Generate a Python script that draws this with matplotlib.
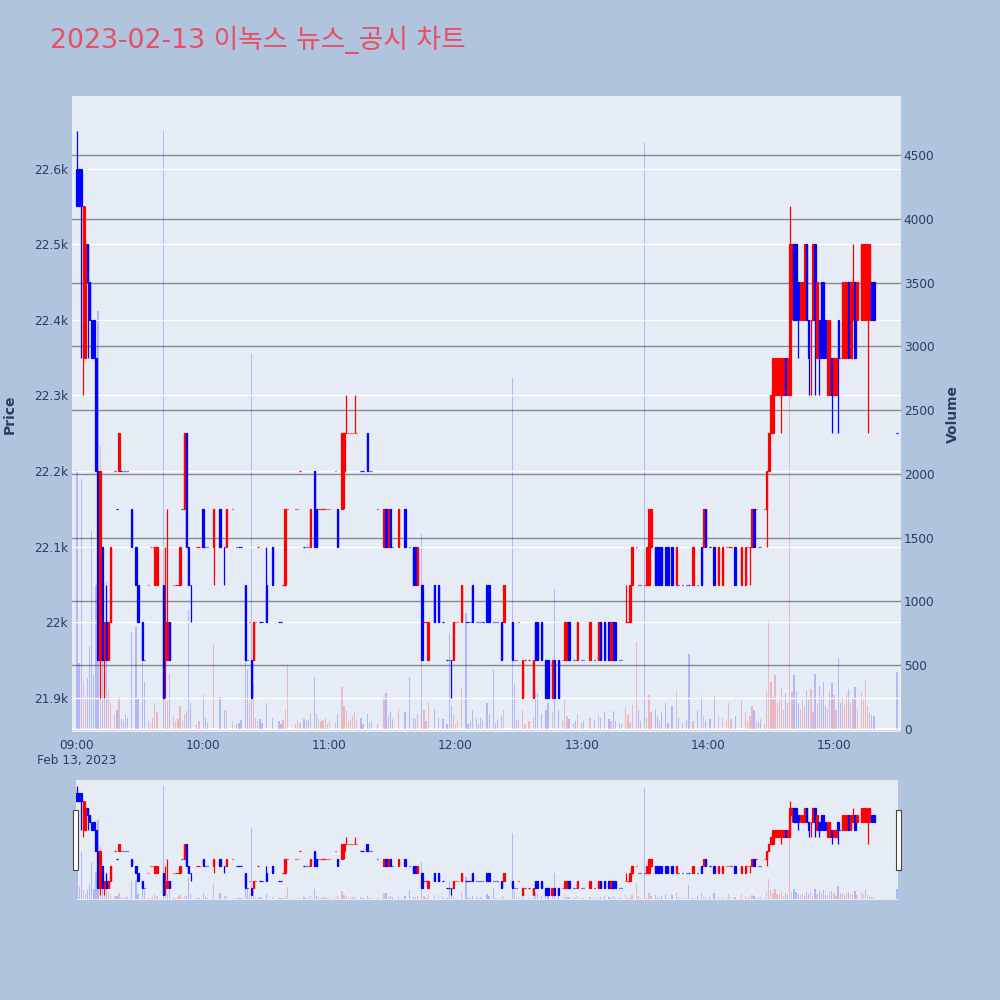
import numpy as np
import pandas as pd
import matplotlib
matplotlib.use('Agg')
import matplotlib.pyplot as plt
import matplotlib.dates as mdates
from matplotlib.patches import Rectangle

plt.rcParams['font.family'] = ['DejaVu Sans', 'Noto Sans CJK KR']

title = '2023-02-13 이녹스 뉴스_공시 차트'
date_label = 'Feb 13, 2023'

# minutes after 09:00 that have trades
minutes = [
    0, 1, 2, 3, 4, 5, 6, 7, 8, 9,
    10, 11, 12, 13, 14, 15, 16, 18, 19, 20,
    21, 22, 23, 24, 26, 28, 29, 31, 32, 34,
    35, 36, 37, 38, 41, 42, 43, 44, 46, 47,
    48, 49, 50, 51, 52, 53, 54, 57, 58, 60,
    61, 62, 65, 68, 70, 71, 74, 76, 77, 78,
    80, 81, 82, 83, 84, 85, 86, 87, 88, 90,
    93, 96, 97, 98, 99, 100, 104, 105, 106, 108,
    109, 110, 111, 113, 114, 115, 116, 117, 118, 119,
    120, 123, 124, 126, 127, 128, 129, 130, 131, 132,
    133, 135, 136, 138, 139, 140, 143, 146, 147, 148,
    149, 150, 153, 156, 158, 160, 161, 162, 164, 165,
    166, 167, 170, 172, 174, 176, 177, 178, 179, 180,
    181, 183, 185, 186, 187, 188, 190, 191, 192, 193,
    195, 196, 198, 199, 200, 202, 203, 207, 208, 209,
    210, 212, 213, 215, 217, 218, 219, 221, 223, 224,
    226, 227, 229, 231, 232, 233, 234, 236, 237, 238,
    240, 241, 244, 246, 248, 249, 251, 253, 254, 255,
    256, 258, 259, 261, 262, 263, 264, 266, 267, 268,
    270, 271, 272, 273, 275, 276, 277, 278, 280, 281,
    283, 285, 286, 288, 290, 291, 293, 295, 297, 298,
    299, 301, 303, 305, 307, 309, 310, 311, 313, 316,
    318, 319, 320, 321, 322, 323, 324, 325, 327, 328,
    329, 330, 331, 332, 333, 334, 335, 336, 337, 338,
    339, 340, 341, 342, 343, 344, 345, 346, 347, 348,
    349, 350, 351, 352, 353, 354, 355, 356, 357, 358,
    359, 360, 361, 362, 363, 364, 365, 366, 367, 368,
    369, 370, 371, 373, 374, 375, 376, 377, 378, 379,
    390,
]

opens = [
    22600, 22600, 22600, 22350, 22350, 22500, 22450, 22400, 22400, 22350,
    22200, 21950, 22100, 21950, 22000, 21950, 22000, 22200, 22150, 22200,
    22200, 22200, 22200, 22200, 22150, 22100, 22050, 22000, 21950, 22050,
    22100, 22100, 22050, 22050, 22050, 21950, 21950, 22000, 22050, 22050,
    22050, 22050, 22150, 22150, 22250, 22100, 22050, 22100, 22100, 22150,
    22100, 22100, 22100, 22150, 22100, 22100, 22150, 22100, 22100, 22100,
    22050, 21950, 22000, 21950, 21950, 22000, 22100, 22000, 22000, 22050,
    22100, 22000, 22000, 22050, 22050, 22150, 22150, 22150, 22200, 22100,
    22100, 22100, 22100, 22200, 22150, 22150, 22150, 22150, 22150, 22150,
    22150, 22200, 22150, 22150, 22200, 22250, 22250, 22250, 22250, 22250,
    22250, 22200, 22200, 22250, 22200, 22200, 22150, 22100, 22150, 22100,
    22150, 22100, 22100, 22150, 22100, 22100, 22100, 22050, 22050, 22000,
    22000, 21950, 22050, 22050, 22000, 21950, 21950, 21950, 21950, 22000,
    22000, 22000, 22000, 22000, 22000, 22050, 22000, 22000, 22000, 22000,
    22050, 22050, 22000, 22000, 22000, 22000, 22000, 22000, 21950, 21950,
    22000, 21900, 21950, 21950, 21900, 22000, 22000, 22000, 21950, 21950,
    21900, 21950, 21950, 21950, 21950, 21950, 22000, 21950, 21950, 21950,
    21950, 21950, 21950, 21950, 21950, 22000, 22000, 22000, 21950, 22000,
    22000, 21950, 21950, 22000, 22000, 22000, 22050, 22100, 22050, 22050,
    22050, 22050, 22050, 22100, 22100, 22100, 22100, 22100, 22100, 22100,
    22100, 22050, 22050, 22050, 22050, 22050, 22050, 22050, 22100, 22100,
    22150, 22100, 22100, 22050, 22050, 22100, 22100, 22100, 22100, 22050,
    22050, 22100, 22100, 22100, 22150, 22150, 22100, 22100, 22150, 22150,
    22200, 22250, 22250, 22300, 22300, 22300, 22300, 22300, 22350, 22300,
    22300, 22450, 22500, 22500, 22450, 22400, 22400, 22400, 22500, 22400,
    22400, 22400, 22500, 22350, 22400, 22450, 22450, 22400, 22300, 22300,
    22350, 22300, 22300, 22400, 22350, 22350, 22350, 22350, 22450, 22350,
    22400, 22450, 22400, 22400, 22400, 22400, 22400, 22400, 22450, 22450,
    22250,
]

highs = [
    22650, 22600, 22600, 22550, 22550, 22500, 22450, 22400, 22400, 22350,
    22200, 22200, 22100, 22000, 22050, 22000, 22100, 22200, 22150, 22250,
    22200, 22200, 22200, 22200, 22150, 22100, 22050, 22000, 21950, 22050,
    22100, 22100, 22100, 22100, 22050, 22100, 22150, 22000, 22050, 22050,
    22050, 22100, 22150, 22250, 22250, 22100, 22050, 22100, 22100, 22150,
    22100, 22100, 22150, 22150, 22100, 22150, 22150, 22100, 22100, 22100,
    22050, 21950, 22000, 21950, 22000, 22000, 22100, 22000, 22000, 22100,
    22100, 22000, 22000, 22050, 22150, 22150, 22150, 22150, 22200, 22100,
    22100, 22100, 22150, 22200, 22150, 22150, 22150, 22150, 22150, 22150,
    22150, 22200, 22150, 22250, 22250, 22300, 22250, 22250, 22250, 22300,
    22250, 22200, 22200, 22250, 22200, 22200, 22150, 22150, 22150, 22150,
    22150, 22100, 22150, 22150, 22100, 22100, 22100, 22100, 22050, 22000,
    22000, 22000, 22050, 22050, 22000, 21950, 21950, 21950, 22000, 22000,
    22000, 22050, 22000, 22000, 22000, 22050, 22000, 22000, 22000, 22000,
    22050, 22050, 22000, 22000, 22000, 22000, 22050, 22000, 21950, 21950,
    22000, 21950, 21950, 21950, 21950, 22000, 22000, 22000, 21950, 21950,
    21950, 21950, 21950, 21950, 22000, 22000, 22000, 21950, 21950, 22000,
    21950, 21950, 22000, 21950, 22000, 22000, 22000, 22000, 22000, 22000,
    22000, 21950, 21950, 22050, 22000, 22050, 22100, 22100, 22050, 22050,
    22050, 22100, 22150, 22150, 22100, 22100, 22100, 22100, 22100, 22100,
    22100, 22100, 22050, 22050, 22050, 22050, 22100, 22050, 22100, 22150,
    22150, 22100, 22100, 22100, 22100, 22100, 22100, 22100, 22100, 22100,
    22100, 22100, 22100, 22150, 22150, 22150, 22100, 22100, 22150, 22200,
    22250, 22300, 22350, 22350, 22350, 22350, 22350, 22350, 22350, 22350,
    22550, 22500, 22500, 22500, 22450, 22450, 22450, 22500, 22500, 22400,
    22400, 22500, 22500, 22450, 22400, 22450, 22450, 22400, 22400, 22400,
    22350, 22350, 22350, 22400, 22350, 22450, 22450, 22450, 22450, 22450,
    22500, 22450, 22450, 22500, 22500, 22500, 22500, 22500, 22450, 22450,
    22250,
]

lows = [
    22550, 22550, 22350, 22300, 22350, 22350, 22400, 22350, 22350, 22200,
    21950, 21900, 21950, 21900, 21950, 21950, 22000, 22200, 22150, 22200,
    22200, 22200, 22200, 22200, 22100, 22050, 22000, 21950, 21950, 22050,
    22100, 22100, 22050, 22050, 21900, 21900, 21950, 21950, 22050, 22050,
    22050, 22050, 22150, 22150, 22100, 22050, 22000, 22100, 22100, 22100,
    22100, 22100, 22050, 22100, 22050, 22100, 22150, 22100, 22100, 22100,
    21950, 21950, 22000, 21900, 21950, 22000, 22100, 22000, 22000, 22000,
    22050, 22000, 22000, 22050, 22050, 22150, 22150, 22150, 22200, 22100,
    22100, 22100, 22100, 22100, 22100, 22150, 22150, 22150, 22150, 22150,
    22150, 22200, 22100, 22150, 22150, 22250, 22250, 22250, 22250, 22250,
    22250, 22200, 22200, 22200, 22200, 22200, 22150, 22100, 22100, 22100,
    22100, 22100, 22100, 22100, 22100, 22050, 22050, 22050, 21950, 22000,
    22000, 21950, 22000, 22000, 22000, 21950, 21950, 21900, 21950, 22000,
    22000, 22000, 22000, 22000, 22000, 22000, 22000, 22000, 22000, 22000,
    22000, 22000, 22000, 22000, 22000, 21950, 22000, 21950, 21950, 21950,
    22000, 21900, 21950, 21950, 21900, 21950, 21950, 21950, 21900, 21900,
    21900, 21900, 21900, 21950, 21950, 21950, 21950, 21950, 21950, 21950,
    21950, 21950, 21950, 21950, 21950, 21950, 21950, 21950, 21950, 21950,
    21950, 21950, 21950, 22000, 22000, 22000, 22050, 22100, 22050, 22050,
    22050, 22050, 22050, 22100, 22050, 22050, 22050, 22050, 22050, 22050,
    22050, 22050, 22050, 22050, 22050, 22050, 22050, 22050, 22050, 22100,
    22100, 22100, 22050, 22050, 22050, 22100, 22100, 22100, 22050, 22050,
    22050, 22100, 22050, 22100, 22100, 22150, 22100, 22100, 22150, 22100,
    22200, 22250, 22250, 22300, 22300, 22300, 22250, 22300, 22300, 22300,
    22300, 22400, 22400, 22400, 22350, 22400, 22400, 22400, 22400, 22300,
    22300, 22400, 22300, 22350, 22300, 22350, 22350, 22350, 22300, 22300,
    22250, 22300, 22300, 22250, 22350, 22350, 22350, 22350, 22350, 22350,
    22400, 22350, 22400, 22400, 22400, 22400, 22250, 22400, 22400, 22400,
    22250,
]

closes = [
    22550, 22550, 22550, 22550, 22500, 22450, 22400, 22350, 22350, 22200,
    21950, 22200, 21950, 22000, 21950, 22000, 22100, 22200, 22150, 22250,
    22200, 22200, 22200, 22200, 22100, 22050, 22000, 21950, 21950, 22050,
    22100, 22100, 22100, 22100, 21900, 22000, 22000, 21950, 22050, 22050,
    22050, 22100, 22150, 22250, 22100, 22050, 22050, 22100, 22100, 22100,
    22100, 22100, 22150, 22100, 22100, 22150, 22150, 22100, 22100, 22100,
    21950, 21950, 22000, 21900, 22000, 22000, 22100, 22000, 22000, 22000,
    22050, 22000, 22000, 22050, 22150, 22150, 22150, 22150, 22200, 22100,
    22100, 22100, 22150, 22100, 22100, 22150, 22150, 22150, 22150, 22150,
    22150, 22200, 22100, 22250, 22250, 22250, 22250, 22250, 22250, 22250,
    22250, 22200, 22200, 22200, 22200, 22200, 22150, 22150, 22100, 22150,
    22100, 22100, 22150, 22100, 22100, 22050, 22050, 22100, 21950, 22000,
    22000, 22000, 22000, 22000, 22000, 21950, 21950, 21950, 22000, 22000,
    22000, 22050, 22000, 22000, 22000, 22000, 22000, 22000, 22000, 22000,
    22000, 22000, 22000, 22000, 22000, 21950, 22050, 21950, 21950, 21950,
    22000, 21950, 21950, 21950, 21950, 21950, 21950, 21950, 21900, 21900,
    21950, 21900, 21900, 21950, 22000, 22000, 21950, 21950, 21950, 22000,
    21950, 21950, 22000, 21950, 22000, 21950, 21950, 21950, 22000, 21950,
    21950, 21950, 21950, 22000, 22000, 22050, 22100, 22100, 22050, 22050,
    22050, 22100, 22150, 22150, 22050, 22050, 22050, 22050, 22050, 22050,
    22050, 22100, 22050, 22050, 22050, 22050, 22100, 22050, 22050, 22150,
    22100, 22100, 22050, 22100, 22100, 22100, 22100, 22100, 22050, 22100,
    22100, 22100, 22100, 22150, 22100, 22150, 22100, 22100, 22150, 22200,
    22250, 22300, 22350, 22350, 22350, 22350, 22350, 22350, 22300, 22350,
    22500, 22500, 22400, 22400, 22400, 22450, 22450, 22500, 22400, 22350,
    22400, 22500, 22400, 22450, 22350, 22350, 22350, 22350, 22400, 22400,
    22300, 22350, 22350, 22350, 22350, 22450, 22450, 22450, 22350, 22450,
    22450, 22350, 22450, 22500, 22500, 22500, 22500, 22500, 22400, 22400,
    22250,
]

volumes = [
    2030, 520, 1960, 380, 240, 400, 640, 1550, 420, 1130,
    3280, 2215, 590, 330, 1150, 310, 200, 120, 150, 250,
    80, 60, 110, 90, 760, 800, 240, 520, 370, 60,
    40, 90, 200, 130, 4690, 450, 220, 430, 110, 60,
    80, 180, 60, 120, 140, 930, 200, 40, 60, 270,
    90, 50, 665, 250, 150, 140, 60, 40, 50, 70,
    540, 470, 200, 2940, 360, 90, 60, 80, 50, 200,
    90, 60, 40, 70, 150, 500, 40, 60, 50, 80,
    60, 70, 120, 410, 120, 80, 60, 70, 90, 40,
    60, 50, 120, 330, 180, 150, 60, 80, 100, 140,
    70, 90, 40, 120, 50, 60, 40, 250, 280, 100,
    130, 80, 160, 130, 405, 90, 80, 120, 1530, 150,
    60, 210, 160, 90, 80, 40, 750, 180, 120, 40,
    60, 320, 910, 40, 60, 150, 80, 40, 90, 60,
    200, 120, 460, 50, 70, 100, 150, 2750, 350, 60,
    80, 150, 40, 60, 90, 290, 280, 120, 150, 200,
    130, 1100, 150, 60, 230, 100, 80, 40, 60, 120,
    50, 60, 90, 70, 110, 90, 130, 80, 60, 140,
    60, 50, 40, 170, 110, 50, 190, 680, 150, 60,
    4600, 90, 270, 130, 160, 100, 60, 130, 200, 50,
    180, 300, 90, 50, 70, 590, 60, 140, 250, 100,
    60, 80, 260, 110, 90, 60, 200, 80, 100, 230,
    130, 60, 100, 180, 150, 60, 50, 80, 40, 300,
    855, 370, 250, 420, 200, 240, 330, 150, 280, 200,
    3800, 290, 420, 300, 200, 160, 250, 180, 300, 230,
    310, 130, 430, 200, 340, 250, 370, 180, 160, 300,
    360, 270, 150, 555, 200, 250, 190, 280, 310, 200,
    240, 330, 160, 290, 240, 385, 180, 130, 110, 100,
    445,
]

price_ticks = [21900, 22000, 22100, 22200, 22300, 22400, 22500, 22600]
price_labels = ['21.9k', '22k', '22.1k', '22.2k', '22.3k', '22.4k', '22.5k', '22.6k']
volume_ticks = [0, 500, 1000, 1500, 2000, 2500, 3000, 3500, 4000, 4500]
hour_ticks = ['09:00', '10:00', '11:00', '12:00', '13:00', '14:00', '15:00']

RED = '#ff0000'
BLUE = '#0000ff'
TXT = '#2a3f5f'
BG = '#e5ecf6'
PAPER = '#b0c4de'

start = pd.Timestamp('2023-02-13 09:00')
times = start + pd.to_timedelta(minutes, unit='min')
x = mdates.date2num(times.values)
o = np.array(opens, dtype=float)
h = np.array(highs, dtype=float)
l = np.array(lows, dtype=float)
c = np.array(closes, dtype=float)
v = np.array(volumes, dtype=float)

# up = red, down = blue; unchanged candles follow the previous close
colors = []
prev_c, prev_col = None, BLUE
for oi, ci in zip(o, c):
    if ci > oi:
        col = RED
    elif ci < oi:
        col = BLUE
    elif prev_c is not None and ci > prev_c:
        col = RED
    elif prev_c is not None and ci < prev_c:
        col = BLUE
    else:
        col = prev_col
    colors.append(col)
    prev_c, prev_col = ci, col

one_min = 1.0 / 1440


def draw_candles(ax):
    ax.vlines(x, l, h, colors=colors, linewidth=0.9, zorder=3)
    ax.bar(x, np.abs(c - o), bottom=np.minimum(o, c), width=0.65 * one_min,
           color=colors, edgecolor=colors, linewidth=0.9, zorder=4)


def draw_volume(ax):
    ax.bar(x, v, width=0.6 * one_min, color=colors, alpha=0.22, linewidth=0, zorder=2)


fig = plt.figure(figsize=(10, 10), dpi=100)
fig.patch.set_facecolor(PAPER)

rect = [0.072, 0.268, 0.829, 0.636]
ax_v = fig.add_axes(rect)
ax_p = fig.add_axes(rect, sharex=ax_v)
ax_v.set_facecolor(BG)
ax_p.patch.set_visible(False)

draw_volume(ax_v)
draw_candles(ax_p)

x0 = mdates.date2num(start)
ax_p.set_xlim(x0 - 2.38 * one_min, x0 + 391.86 * one_min)
ax_p.set_ylim(21855, 22696)
ax_v.set_ylim(-23.5, 4962)

ax_v.set_yticks(volume_ticks)
ax_v.yaxis.tick_right()
ax_v.grid(True, axis='y', color='#8a8a8a', linewidth=1.0, zorder=0)
ax_v.set_axisbelow(True)
ax_v.axhline(0, color='white', linewidth=1.6, zorder=1)
ax_v.tick_params(axis='y', length=0, pad=2, labelsize=8.7, labelcolor=TXT)
ax_v.tick_params(axis='x', length=0, labelbottom=False)

ax_p.set_yticks(price_ticks)
ax_p.set_yticklabels(price_labels)
ax_p.grid(True, axis='y', color='white', linewidth=1.0, zorder=0)
ax_p.set_axisbelow(True)
ax_p.tick_params(axis='y', length=0, pad=3, labelsize=8.7, labelcolor=TXT)

hour_pos = [mdates.date2num(start + pd.Timedelta(hours=i)) for i in range(len(hour_ticks))]
hour_labels = list(hour_ticks)
hour_labels[0] = hour_labels[0] + '\n' + date_label
ax_p.set_xticks(hour_pos)
ax_p.set_xticklabels(hour_labels)
ax_p.tick_params(axis='x', length=0, pad=5, labelsize=8.7, labelcolor=TXT)

for ax in (ax_v, ax_p):
    for s in ax.spines.values():
        s.set_visible(False)

fig.text(0.050, 0.960, title, fontsize=19.3, color='#e94e67', ha='left', va='center')
fig.text(0.010, 0.586, 'Price', rotation=90, fontsize=10, fontweight='bold',
         color=TXT, ha='center', va='center')
fig.text(0.953, 0.586, 'Volume', rotation=90, fontsize=10, fontweight='bold',
         color=TXT, ha='center', va='center')

# range slider below
srect = [0.076, 0.100, 0.822, 0.120]
ax_sv = fig.add_axes(srect)
ax_sp = fig.add_axes(srect, sharex=ax_sv)
ax_sv.set_facecolor(BG)
ax_sp.patch.set_visible(False)
draw_volume(ax_sv)
draw_candles(ax_sp)
ax_sp.set_xlim(x0 - 0.5 * one_min, x0 + 390.5 * one_min)
ax_sp.set_ylim(21866, 22691)
ax_sv.set_ylim(-29, 4939)
for ax in (ax_sv, ax_sp):
    ax.set_xticks([])
    ax.set_yticks([])
    for s in ax.spines.values():
        s.set_visible(False)

for hx in (0.073, 0.896):
    fig.patches.append(Rectangle((hx, 0.130), 0.005, 0.060, transform=fig.transFigure,
                                 facecolor='white', edgecolor='#444444', linewidth=0.8))

fig.savefig('out.png', dpi=100, facecolor=PAPER)
